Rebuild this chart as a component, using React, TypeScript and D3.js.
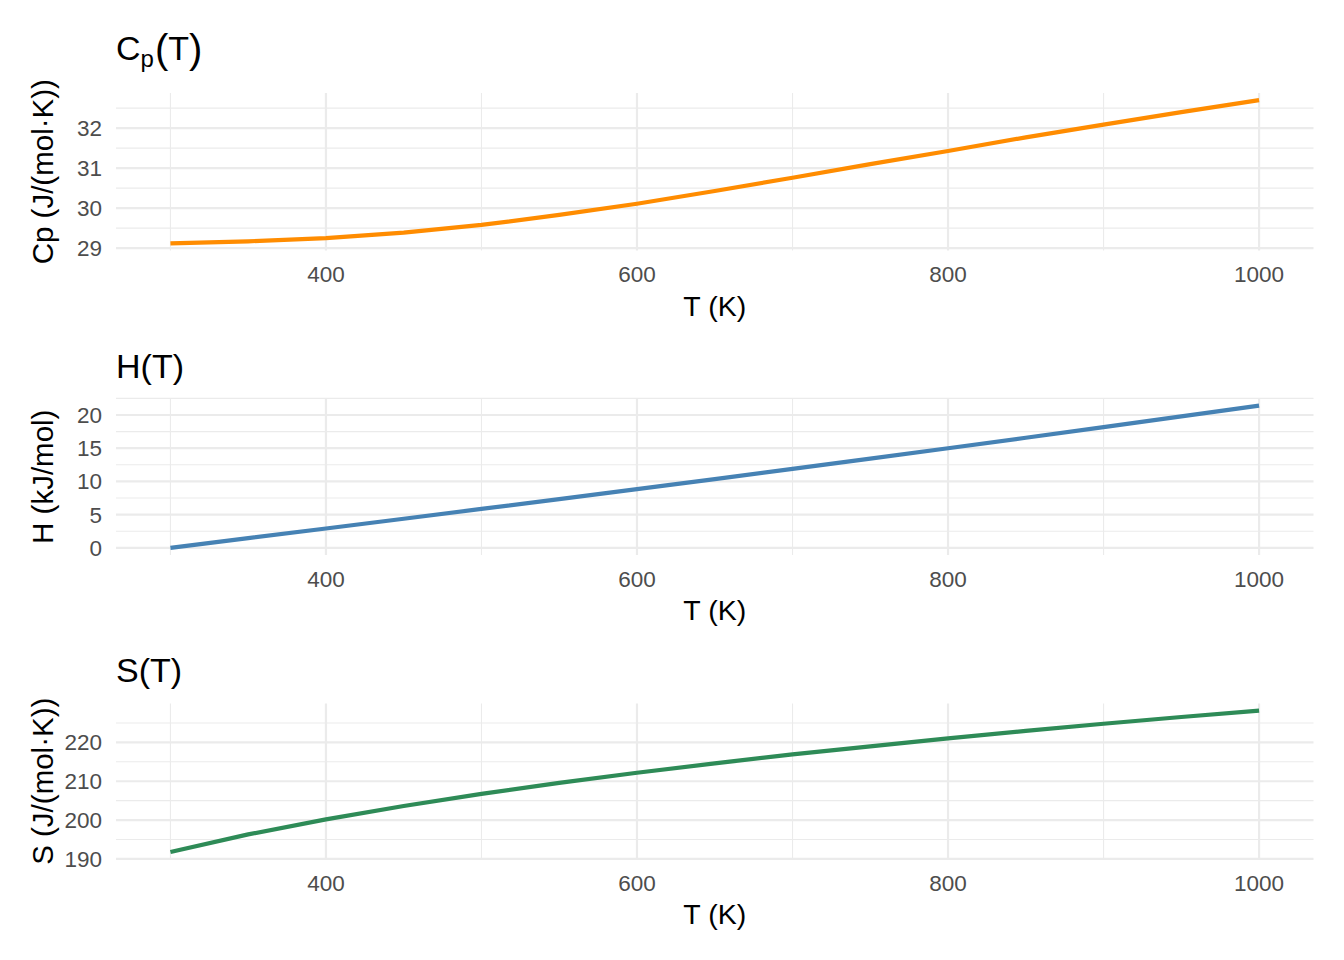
import React from "react";
import * as d3 from "d3";

// ---- data ----
const temps = [300, 350, 400, 450, 500, 550, 600, 650, 700, 750, 800, 850, 900, 950, 1000];
const cpValues = [29.12, 29.17, 29.25, 29.39, 29.58, 29.83, 30.11, 30.43, 30.76, 31.10, 31.43, 31.77, 32.09, 32.40, 32.70];
const hValues = [0.0, 1.46, 2.92, 4.39, 5.86, 7.35, 8.84, 10.36, 11.89, 13.44, 15.0, 16.58, 18.17, 19.79, 21.41];
const sValues = [191.79, 196.3, 200.18, 203.63, 206.74, 209.57, 212.18, 214.6, 216.9, 219.0, 221.06, 222.98, 224.8, 226.55, 228.2];

const xMajorTicks = [400, 600, 800, 1000];
const xMinorTicks = [300, 500, 700, 900];
const cpTicks = [29, 30, 31, 32];
const cpMinor = [29.5, 30.5, 31.5, 32.5];
const hTicks = [0, 5, 10, 15, 20];
const hMinor = [2.5, 7.5, 12.5, 17.5, 22.5];
const sTicks = [190, 200, 210, 220];
const sMinor = [195, 205, 215, 225];

const xTitle = "T (K)";

const W = 1344;
const H = 960;
const LEFT = 116;
const RIGHT = 1313.5;
const FONT = "'Liberation Sans', Arial, Helvetica, sans-serif";

function expand(values: number[]): [number, number] {
  const mn = d3.min(values) as number;
  const mx = d3.max(values) as number;
  const pad = (mx - mn) * 0.05;
  return [mn - pad, mx + pad];
}

type PanelDef = {
  key: string;
  values: number[];
  ticks: number[];
  minor: number[];
  color: string;
  yTitle: string;
  top: number;
  bottom: number;
  titleBase: number;
  title: React.ReactNode;
};

const xScale = d3.scaleLinear().domain(expand(temps)).range([LEFT, RIGHT]);

function Panel({ p }: { p: PanelDef }) {
  const y = d3.scaleLinear().domain(expand(p.values)).range([p.bottom, p.top]);
  const line = d3
    .line<number>()
    .x((_, i) => xScale(temps[i]))
    .y((v) => y(v));
  const midY = (p.top + p.bottom) / 2;
  return (
    <g>
      {p.minor.map((t) => (
        <line key={"ym" + t} x1={LEFT} x2={RIGHT} y1={y(t)} y2={y(t)} stroke="#EBEBEB" strokeWidth={1.1} />
      ))}
      {xMinorTicks.map((t) => (
        <line key={"xm" + t} x1={xScale(t)} x2={xScale(t)} y1={p.top} y2={p.bottom} stroke="#EBEBEB" strokeWidth={1.1} />
      ))}
      {p.ticks.map((t) => (
        <line key={"yM" + t} x1={LEFT} x2={RIGHT} y1={y(t)} y2={y(t)} stroke="#EBEBEB" strokeWidth={2.2} />
      ))}
      {xMajorTicks.map((t) => (
        <line key={"xM" + t} x1={xScale(t)} x2={xScale(t)} y1={p.top} y2={p.bottom} stroke="#EBEBEB" strokeWidth={2.2} />
      ))}
      <path d={line(p.values) || ""} fill="none" stroke={p.color} strokeWidth={4.2} strokeLinejoin="round" strokeLinecap="butt" />
      {p.ticks.map((t) => (
        <text key={"yl" + t} x={102} y={y(t) + 8} textAnchor="end" fontSize={22.5} fill="#4D4D4D" fontFamily={FONT}>
          {t}
        </text>
      ))}
      {xMajorTicks.map((t) => (
        <text key={"xl" + t} x={xScale(t)} y={p.bottom + 31.5} textAnchor="middle" fontSize={22.5} fill="#4D4D4D" fontFamily={FONT}>
          {t}
        </text>
      ))}
      <text x={(LEFT + RIGHT) / 2} y={p.bottom + 65} textAnchor="middle" fontSize={28.5} fill="#000" fontFamily={FONT}>
        {xTitle}
      </text>
      <text
        transform={`translate(53,${midY}) rotate(-90)`}
        textAnchor="middle"
        fontSize={29.5}
        fill="#000"
        fontFamily={FONT}
      >
        {p.yTitle}
      </text>
      <text x={116} y={p.titleBase} fontSize={34} fill="#000" fontFamily={FONT}>
        {p.title}
      </text>
    </g>
  );
}

const panels: PanelDef[] = [
  {
    key: "cp",
    values: cpValues,
    ticks: cpTicks,
    minor: cpMinor,
    color: "#FF8C00",
    yTitle: "Cp (J/(mol·K))",
    top: 93,
    bottom: 250.5,
    titleBase: 60,
    title: (
      <>
        <tspan>C</tspan>
        <tspan fontSize={24} dy={6.7}>p</tspan>
        <tspan dy={-4.2} dx={1} fontSize={40}>(</tspan>
        <tspan dy={-2.5} fontSize={34}>T</tspan>
        <tspan dy={2.5} fontSize={40}>)</tspan>
      </>
    ),
  },
  {
    key: "h",
    values: hValues,
    ticks: hTicks,
    minor: hMinor,
    color: "#4682B4",
    yTitle: "H (kJ/mol)",
    top: 398.5,
    bottom: 555,
    titleBase: 377.7,
    title: "H(T)",
  },
  {
    key: "s",
    values: sValues,
    ticks: sTicks,
    minor: sMinor,
    color: "#2E8B57",
    yTitle: "S (J/(mol·K))",
    top: 703.5,
    bottom: 859,
    titleBase: 681.5,
    title: "S(T)",
  },
];

export default function App() {
  return (
    <svg width={W} height={H} style={{ display: "block", position: "absolute", left: 0, top: 0, background: "#fff" }}>
      <rect x={0} y={0} width={W} height={H} fill="#fff" />
      {panels.map((p) => (
        <Panel key={p.key} p={p} />
      ))}
    </svg>
  );
}
